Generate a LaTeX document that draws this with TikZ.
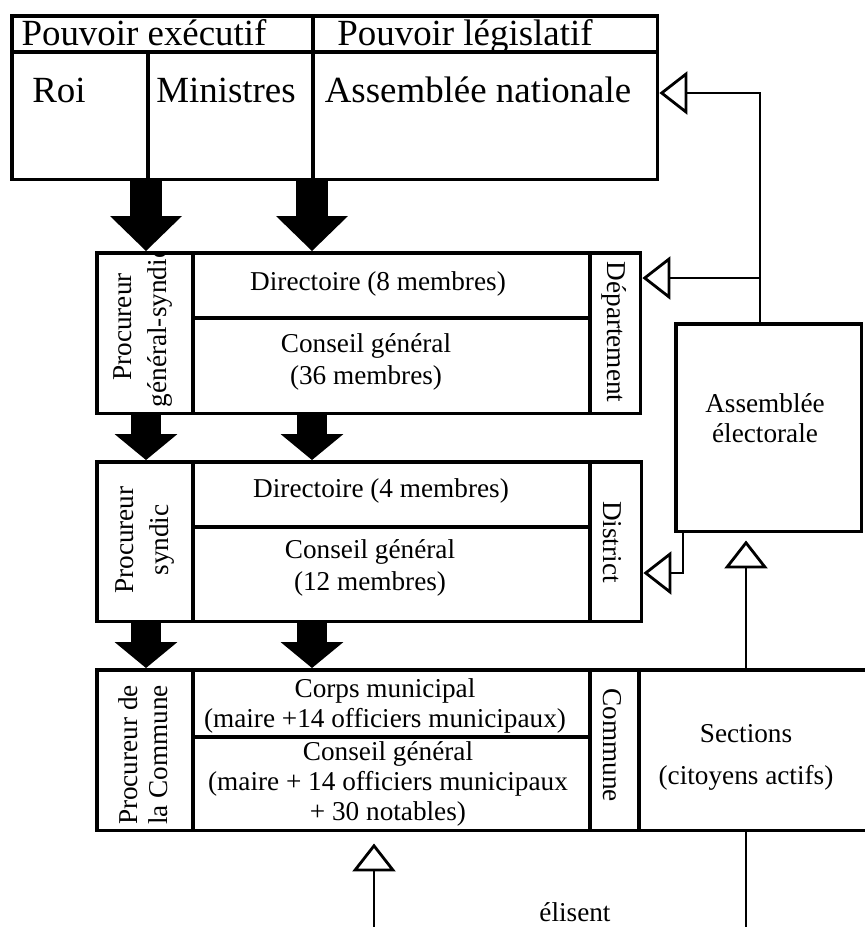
\documentclass[tikz,border=0pt]{standalone}
\usepackage{fontspec}
\setmainfont{Liberation Serif}
\usepackage{tikz}
\usetikzlibrary{arrows.meta}
\usetikzlibrary{calc}
\usetikzlibrary{positioning}

\tikzset{
  box/.style={draw, line width=2pt, inner sep=0pt, anchor=north west},
  rule/.style={line width=2pt},
  bigtxt/.style={font=\fontsize{21}{24}\selectfont, inner sep=0pt, anchor=base},
  txt/.style={font=\fontsize{15.5}{18}\selectfont, align=center, inner sep=0pt},
  vtxt/.style={txt, rotate=90},
  vtxtr/.style={txt, rotate=-90},
  fat/.style={line width=0.66cm, -{Triangle[width=1.44cm, length=0.7cm, line width=0pt]}},
  fatsmall/.style={line width=0.62cm, -{Triangle[width=1.26cm, length=0.52cm, line width=0pt]}},
  elect/.style={line width=1.6pt, -{Triangle[open, width=0.86cm, length=0.56cm]}},
}

\begin{document}
\begin{tikzpicture}[x=0.02cm, y=-0.02cm]

      \useasboundingbox (0,0) rectangle (865,927);
      \newcommand\colP{193}
      \newcommand\colR{590}

      % pouvoirs
      \node [box, minimum width=12.92cm, minimum height=3.28cm] (pouvoirs) at (10,14) {};
      \draw [rule] (10,52) -- (656,52);
      \draw [rule] (313,14) -- (313,178);
      \draw [rule] (148,52) -- (148,178);
      \node [bigtxt] (pex) at (144,45) {Pouvoir exécutif};
      \node [bigtxt] (plg) at (465,45) {Pouvoir législatif};
      \node [bigtxt] (roi) at (59,102) {Roi};
      \node [bigtxt] (min) at (226,102) {Ministres};
      \node [bigtxt] (an) at (478,102) {Assemblée nationale};

      % departement
      \node [box, minimum width=10.88cm, minimum height=3.22cm] (dep) at (95,251) {};
      \draw [rule] (\colP,251) -- (\colP,412);
      \draw [rule] (\colR,251) -- (\colR,412);
      \draw [rule] (\colP,318) -- (\colR,318);
      \begin{scope}
        \clip (95,251) rectangle (\colP,412);
        \node [vtxt, font=\fontsize{15.5}{20}\selectfont] (pgs) at (143,327) {Procureur\\général-syndic};
      \end{scope}
      \node [txt] (dir8) at (378,284) {Directoire (8 membres)};
      \node [txt] (cg36) at (366,362) {Conseil général\\(36 membres)};
      \node [vtxtr] (depl) at (614,332) {Département};

      % district
      \node [box, minimum width=10.9cm, minimum height=3.2cm] (dis) at (95,460) {};
      \draw [rule] (\colP,460) -- (\colP,620);
      \draw [rule] (\colR,460) -- (\colR,620);
      \draw [rule] (\colP,527) -- (\colR,527);
      \node [vtxt, font=\fontsize{15.5}{20}\selectfont] (ps) at (145,540) {Procureur\\syndic};
      \node [txt] (dir4) at (381,491) {Directoire (4 membres)};
      \node [txt] (cg12) at (370,568) {Conseil général\\(12 membres)};
      \node [vtxtr] (disl) at (612,542) {District};

      % commune
      \node [box, minimum width=10.84cm, minimum height=3.22cm] (com) at (95,668) {};
      \draw [rule] (\colP,668) -- (\colP,829);
      \draw [rule] (\colR,668) -- (\colR,829);
      \draw [rule] (\colP,737) -- (\colR,737);
      \node [vtxt, font=\fontsize{15.5}{17}\selectfont] (pc) at (143,755) {Procureur de\\la Commune};
      \node [txt, font=\fontsize{15.5}{17}\selectfont] (corps) at (385,706) {Corps municipal\\(maire +14 officiers municipaux)};
      \node [txt, font=\fontsize{15.5}{17}\selectfont] (cgc) at (388,784) {Conseil général\\(maire + 14 officiers municipaux\\+ 30 notables)};
      \node [vtxtr] (coml) at (612,745) {Commune};

      % sections, assemblee electorale
      \node [box, minimum width=4.76cm, minimum height=3.22cm] (sec) at (637,668) {};
      \node [txt] (secl) at (746,757) {Sections\\[6pt](citoyens actifs)};
      \node [box, minimum width=3.72cm, minimum height=4.16cm] (ae) at (674,322) {};
      \node [txt, font=\fontsize{15.5}{17}\selectfont] (ael) at (765,418) {Assemblée\\électorale};

      % nominations
      \coordinate (xa) at (146,0);
      \coordinate (xb) at (312,0);
      \draw [fat] (pouvoirs.south -| xa) -- (dep.north -| xa);
      \draw [fat] (pouvoirs.south -| xb) -- (dep.north -| xb);
      \draw [fatsmall] (dep.south -| xa) -- (dis.north -| xa);
      \draw [fatsmall] (dep.south -| xb) -- (dis.north -| xb);
      \draw [fatsmall] (dis.south -| xa) -- (com.north -| xa);
      \draw [fatsmall] (dis.south -| xb) -- (com.north -| xb);

      % elections
      \coordinate (xv) at (760,0);
      \coordinate (xd) at (683,0);
      \coordinate (xs) at (746,0);
      \coordinate (xc) at (374,0);
      \coordinate (yan) at (0,93);
      \coordinate (ydep) at (0,278);
      \coordinate (ydis) at (0,573);
      \coordinate (bot) at (0,927);
      \draw [elect] (ae.north -| xv) |- (pouvoirs.east |- yan);
      \draw [elect] (xv |- ydep) -- (dep.east |- ydep);
      \draw [elect] (ae.south -| xd) |- (dis.east |- ydis);
      \draw [elect, shorten >=0.14cm] (sec.north -| xs) -- (ae.south -| xs);
      \draw [line width=1.6pt] (sec.south -| xs) -- (bot -| xs);
      \draw [elect, shorten >=0.22cm] (bot -| xc) -- (com.south -| xc);
      \node [txt] (elis) at (575,912) {élisent};

    \end{tikzpicture}
\end{document}
